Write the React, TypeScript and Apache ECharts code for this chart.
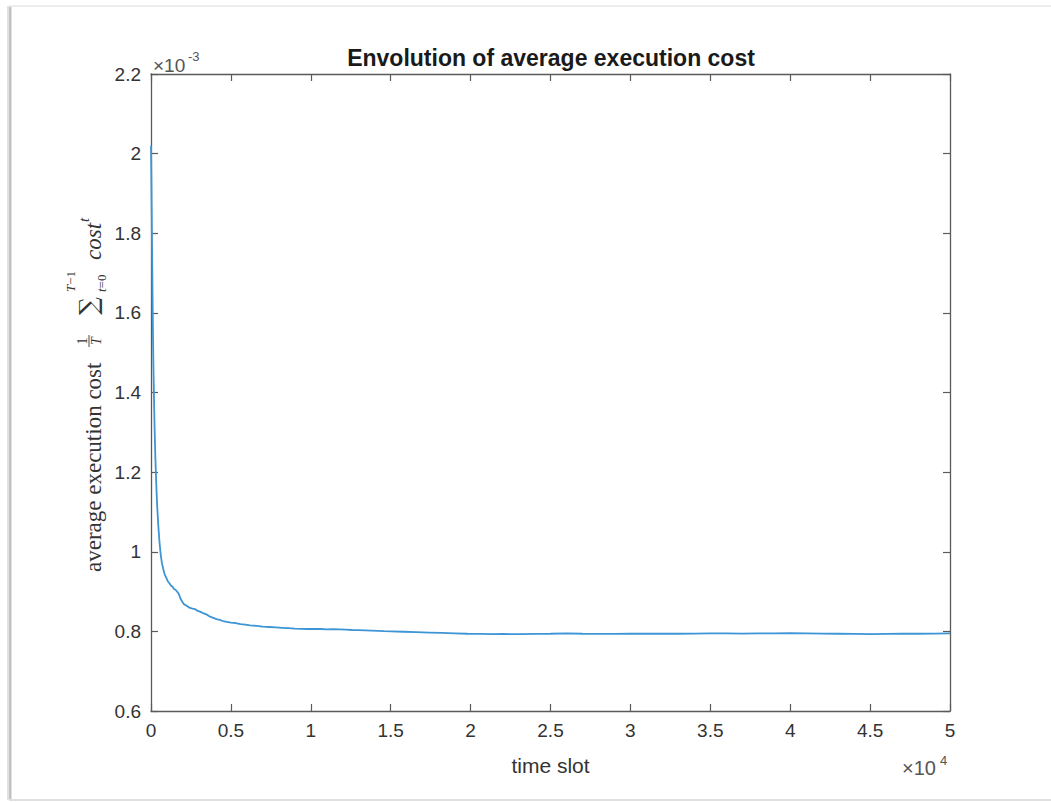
import React, { useEffect, useRef } from "react";
import * as echarts from "echarts";

// Running average of the execution cost (in units of 1e-3) per time slot
const timeSlots = [
  0, 20, 45, 70, 95, 120, 150, 185, 225, 270, 320, 380, 450, 520, 600, 680, 760, 850, 950,
  1050, 1150, 1250, 1350, 1450, 1550, 1650, 1750, 1850, 1950, 2050, 2200, 2350, 2450, 2600,
  2750, 2900, 3100, 3300, 3500, 3700, 3900, 4100, 4300, 4500, 4750, 5000, 5300, 5600, 5900,
  6200, 6600, 7000, 7400, 7800, 8200, 8600, 9000, 9400, 9800, 10200, 10600, 11000, 11400,
  11800, 12200, 12600, 13000, 13400, 13800, 14200, 14600, 15000, 15800, 16600, 17400, 18200,
  19000, 19800, 20600, 21400, 22000, 23000, 24000, 25000, 26000, 27000, 28000, 29000, 30000,
  31000, 32000, 33000, 34000, 35000, 36000, 37000, 38000, 39000, 40000, 41000, 42000, 43000,
  44000, 45000, 46000, 47000, 48000, 49000, 50000,
];
const avgCost = [
  2.02, 1.95, 1.85, 1.75, 1.65, 1.56, 1.47, 1.39, 1.31, 1.24, 1.18, 1.12, 1.07, 1.03, 0.995,
  0.972, 0.958, 0.944, 0.935, 0.926, 0.921, 0.915, 0.912, 0.906, 0.904, 0.899, 0.893, 0.882,
  0.875, 0.869, 0.865, 0.861, 0.859, 0.857, 0.856, 0.852, 0.849, 0.845, 0.842, 0.837, 0.834,
  0.831, 0.829, 0.826, 0.824, 0.822, 0.821, 0.818, 0.817, 0.815, 0.814, 0.812, 0.811, 0.810,
  0.809, 0.808, 0.807, 0.8065, 0.806, 0.8065, 0.806, 0.805, 0.8055, 0.805, 0.8045, 0.8035,
  0.803, 0.8025, 0.802, 0.8015, 0.8005, 0.8, 0.799, 0.798, 0.797, 0.796, 0.795, 0.794,
  0.7935, 0.793, 0.7935, 0.793, 0.7935, 0.794, 0.795, 0.794, 0.7935, 0.7935, 0.794, 0.794,
  0.7945, 0.794, 0.7945, 0.795, 0.795, 0.7945, 0.795, 0.795, 0.7955, 0.795, 0.7945, 0.794,
  0.7935, 0.793, 0.7935, 0.794, 0.794, 0.7945, 0.795,
];

const xTickLabels = ["0", "0.5", "1", "1.5", "2", "2.5", "3", "3.5", "4", "4.5", "5"];
const yTickLabels = ["0.6", "0.8", "1", "1.2", "1.4", "1.6", "1.8", "2", "2.2"];

const X_MIN = 0;
const X_MAX = 50000;
const X_STEP = 5000;
const Y_MIN = 0.6;
const Y_MAX = 2.2;
const Y_STEP = 0.2;

const AXIS_COLOR = "#5a5a5a";
const TEXT_COLOR = "#333333";
const SANS = '"Liberation Sans", Arial, sans-serif';
const SERIF = '"Liberation Serif", "DejaVu Serif", serif';

// plain text element inside the rotated y-axis label group
const mathText = (
  text: string,
  x: number,
  y: number,
  fontSize: number,
  opts: { italic?: boolean; family?: string; align?: string } = {}
) => ({
  type: "text",
  x,
  y,
  style: {
    text,
    fontSize,
    fontFamily: opts.family ?? SERIF,
    fontStyle: opts.italic ? "italic" : "normal",
    fill: TEXT_COLOR,
    align: opts.align ?? "left",
    verticalAlign: "middle",
  },
});

export default function App() {
  const ref = useRef<HTMLDivElement>(null);

  useEffect(() => {
    if (!ref.current) return;
    const chart = echarts.init(ref.current, undefined, { renderer: "svg" });

    const xLabel = (v: number) => xTickLabels[Math.round((v - X_MIN) / X_STEP)] ?? "";
    const yLabel = (v: number) => yTickLabels[Math.round((v - Y_MIN) / Y_STEP)] ?? "";

    const axisCommon = {
      type: "value" as const,
      axisLine: { show: true, onZero: false, lineStyle: { color: AXIS_COLOR, width: 1.3 } },
      axisTick: { show: true, inside: true, length: 7, lineStyle: { color: AXIS_COLOR, width: 1.2 } },
      splitLine: { show: false },
    };

    const expText = (text: string, x: number, y: number, fontSize: number) => ({
      type: "text",
      x,
      y,
      style: { text, fontSize, fontFamily: SANS, fill: "#555", verticalAlign: "middle", align: "left" },
    });

    chart.setOption({
      animation: false,
      backgroundColor: "#ffffff",
      title: {
        text: "Envolution of average execution cost",
        left: 551,
        top: 46,
        textAlign: "center",
        padding: 0,
        textStyle: { fontFamily: SANS, fontSize: 23, fontWeight: "bold", color: "#1a1a1a" },
      },
      grid: { left: 151, right: 101, top: 74, bottom: 91 },
      xAxis: [
        {
          ...axisCommon,
          position: "bottom",
          min: X_MIN,
          max: X_MAX,
          interval: X_STEP,
          axisLabel: { formatter: xLabel, margin: 10, fontFamily: SANS, fontSize: 19, color: TEXT_COLOR },
          name: "time slot",
          nameLocation: "middle",
          nameGap: 44,
          nameTextStyle: { fontFamily: SANS, fontSize: 21, color: TEXT_COLOR },
        },
        {
          ...axisCommon,
          position: "top",
          min: X_MIN,
          max: X_MAX,
          interval: X_STEP,
          axisLabel: { show: false },
        },
      ],
      yAxis: [
        {
          ...axisCommon,
          position: "left",
          min: Y_MIN,
          max: Y_MAX,
          interval: Y_STEP,
          axisLabel: { formatter: yLabel, margin: 10, fontFamily: SANS, fontSize: 19, color: TEXT_COLOR },
        },
        {
          ...axisCommon,
          position: "right",
          min: Y_MIN,
          max: Y_MAX,
          interval: Y_STEP,
          axisLabel: { show: false },
        },
      ],
      series: [
        {
          type: "line",
          xAxisIndex: 0,
          yAxisIndex: 0,
          data: timeSlots.map((t, i) => [t, avgCost[i]]),
          showSymbol: false,
          smooth: false,
          lineStyle: { color: "#3d95d6", width: 1.8 },
          emphasis: { disabled: true },
        },
      ],
      graphic: [
        // screenshot frame
        { type: "rect", silent: true, shape: { x: 7, y: 6, width: 2, height: 794 }, style: { fill: "#e2e2e2" } },
        { type: "rect", silent: true, shape: { x: 9, y: 6, width: 2.5, height: 794 }, style: { fill: "#c2c2c2" } },
        { type: "rect", silent: true, shape: { x: 9, y: 5, width: 1042, height: 2 }, style: { fill: "#ececec" } },
        { type: "rect", silent: true, shape: { x: 9, y: 799, width: 1042, height: 2 }, style: { fill: "#e0e0e0" } },
        // exponent of the y axis
        expText("×10", 153, 65, 19),
        expText("-3", 188, 56, 13),
        // exponent of the x axis
        expText("×10", 902, 768, 20),
        expText("4", 940, 760, 13),
        // y-axis label: average execution cost (1/T) Σ_{t=0}^{T-1} cost^t
        {
          type: "group",
          x: 93,
          y: 392,
          rotation: Math.PI / 2,
          children: [
            mathText("average execution cost", -180, 0, 23),
            mathText("1", 51, -11, 14, { align: "center" }),
            {
              type: "line",
              shape: { x1: 45, y1: -4, x2: 57, y2: -4 },
              style: { stroke: TEXT_COLOR, lineWidth: 0.9 },
            },
            mathText("T", 51, 3, 14, { align: "center", italic: true }),
            mathText("∑", 86, -5, 25, { align: "center", family: '"DejaVu Serif", serif' }),
            {
              type: "text",
              x: 100,
              y: -23,
              style: {
                text: "{i|T}{n|−1}",
                align: "left",
                verticalAlign: "middle",
                rich: {
                  i: { fontSize: 13, fontFamily: SERIF, fontStyle: "italic", fill: TEXT_COLOR },
                  n: { fontSize: 13, fontFamily: SERIF, fill: TEXT_COLOR },
                },
              },
            },
            {
              type: "text",
              x: 100,
              y: 8,
              style: {
                text: "{i|t}{n|=0}",
                align: "left",
                verticalAlign: "middle",
                rich: {
                  i: { fontSize: 13, fontFamily: SERIF, fontStyle: "italic", fill: TEXT_COLOR },
                  n: { fontSize: 13, fontFamily: SERIF, fill: TEXT_COLOR },
                },
              },
            },
            mathText("cost", 132, 0, 23, { italic: true }),
            mathText("t", 170, -9, 15, { italic: true }),
          ],
        },
      ],
    });

    return () => chart.dispose();
  }, []);

  return (
    <div
      ref={ref}
      style={{ position: "absolute", left: 0, top: 0, width: 1051, height: 802, background: "#fff" }}
    />
  );
}
